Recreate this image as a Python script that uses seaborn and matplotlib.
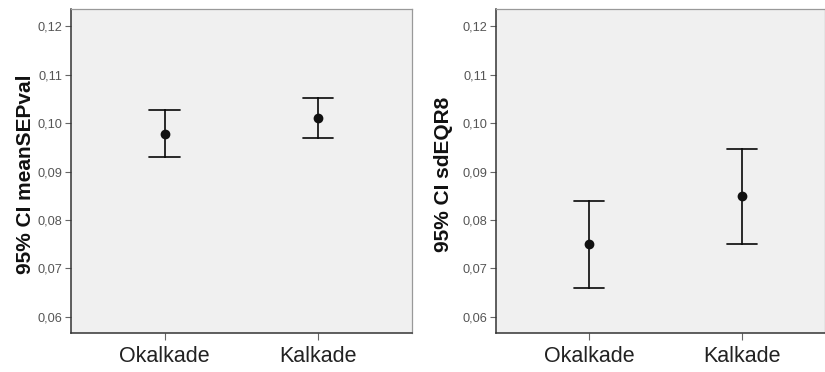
import matplotlib
matplotlib.use("Agg")
import matplotlib.pyplot as plt
import seaborn as sns
import pandas as pd
from matplotlib.ticker import FuncFormatter

# ---- data ----
categories = ["Okalkade", "Kalkade"]
# left panel: meanSEPval, 95% CI
sep_mean = [0.0978, 0.1010]
sep_lower = [0.0931, 0.0970]
sep_upper = [0.1027, 0.1053]
# right panel: sdEQR8, 95% CI
eqr_mean = [0.0750, 0.0849]
eqr_lower = [0.0660, 0.0750]
eqr_upper = [0.0839, 0.0946]
y_ticks = [0.06, 0.07, 0.08, 0.09, 0.10, 0.11, 0.12]
y_labels = ["95% CI meanSEPval", "95% CI sdEQR8"]


def long_frame(means, lows, highs):
    rows = []
    for c, m, lo, hi in zip(categories, means, lows, highs):
        for v in (lo, m, hi):
            rows.append({"group": c, "value": v})
    return pd.DataFrame(rows)


sns.set_theme(style="white")
plt.rcParams["font.family"] = ["Liberation Sans", "DejaVu Sans"]

W, H = 825, 372
fig = plt.figure(figsize=(W / 100, H / 100), dpi=100)
ax1 = fig.add_axes([71 / W, 1 - 333 / H, (411.7 - 71) / W, (333 - 9) / H])
ax2 = fig.add_axes([496 / W, 1 - 333 / H, (824.5 - 496) / W, (333 - 9) / H])

panels = [
    (ax1, long_frame(sep_mean, sep_lower, sep_upper), y_labels[0], (-0.61, 1.61), 36),
    (ax2, long_frame(eqr_mean, eqr_lower, eqr_upper), y_labels[1], (-0.61, 1.539), 43),
]

ink = "#111111"
for ax, df, lab, xl, lab_off in panels:
    sns.pointplot(data=df, x="group", y="value", order=categories,
                  estimator="median", errorbar=("pi", 100),
                  color=ink, linestyle="none", markers="o",
                  markersize=5.0, capsize=0.197,
                  err_kws={"linewidth": 1.25}, ax=ax)
    ax.set_facecolor("#f0f0f0")
    ax.set_xlim(*xl)
    ax.set_ylim(0.05664, 0.1236)
    ax.set_yticks(y_ticks)
    ax.yaxis.set_major_formatter(FuncFormatter(lambda v, p: f"{v:.2f}".replace(".", ",")))
    ax.set_xlabel("")
    ax.set_ylabel(lab, fontsize=15, fontweight="bold", color="#111111")
    bbox_w = ax.get_position().width * W
    ax.yaxis.set_label_coords(-lab_off / bbox_w, 0.49)
    ax.tick_params(axis="y", direction="out", length=4, width=0.8, color="#666666",
                   labelsize=9.2, labelcolor="#555555", pad=2, left=True)
    ax.tick_params(axis="x", direction="out", length=5, width=0.8, color="#666666",
                   labelsize=15.5, labelcolor="#222222", pad=4, bottom=True)
    for s in ("left", "bottom"):
        ax.spines[s].set_color("#333333")
        ax.spines[s].set_linewidth(1.1)
    for s in ("top", "right"):
        ax.spines[s].set_color("#999999")
        ax.spines[s].set_linewidth(0.9)
    ax.grid(False)

fig.savefig("out.png", dpi=100, facecolor="white")
